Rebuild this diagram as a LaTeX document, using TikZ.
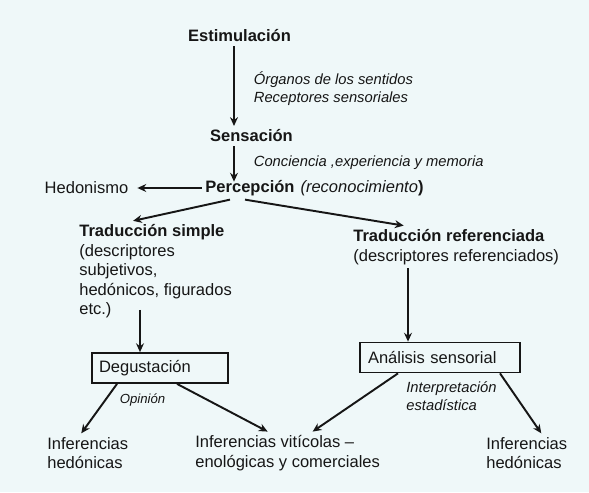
\documentclass[tikz,border=0pt]{standalone}
\usepackage{fontspec}
\setmainfont{Liberation Sans}
\usetikzlibrary{arrows.meta}
\definecolor{diagink}{HTML}{161616}
\definecolor{diagback}{HTML}{EFF8F9}
\newcommand{\cuerpo}{\fontsize{9.4}{11.1}\selectfont}
\newcommand{\nota}{\fontsize{8.4}{10.2}\selectfont\itshape}
\newcommand{\marco}{(0,0) rectangle (11.78,9.84)}

\begin{document}
\begin{tikzpicture}[x=1cm, y=1cm, every node/.style={text=diagink, font=\cuerpo, inner sep=2pt},
  flecha/.style={draw=diagink, line width=1.1pt, -{Stealth[length=5pt, width=4.5pt]}},
  caja/.style={draw=diagink, line width=1pt, align=left, minimum height=0.6cm, inner ysep=1pt},
  bloque/.style={align=left, anchor=west},
  etiqueta/.style={font=\nota, align=left, anchor=west}]

  \fill[diagback] \marco;
  \useasboundingbox \marco;

  %% Upper chain
  \node[font=\cuerpo\bfseries] (est) at (4.79,9.12) {Estimulación};
  \node[font=\cuerpo\bfseries] (sens) at (5.03,7.12) {Sensación};
  \node[font=\cuerpo\bfseries] (perc) at (5.0,6.08) {Percepción};
  \node[anchor=base west, inner xsep=1pt] (reco) at (perc.base east) {\textit{(reconocimiento}\textbf{)}};
  \node (hed) at (1.73,6.08) {Hedonismo};
  \coordinate (eje) at (4.68,0);

  \node[etiqueta] (sentidos) at (5.0,8.06) {Órganos de los sentidos\\Receptores sensoriales};
  \node[etiqueta] (conc) at (5.0,6.58) {Conciencia ,experiencia y memoria};

  \draw[flecha] (est.south -| eje) -- (sens.north -| eje);
  \draw[flecha, shorten >=-3pt] (sens.south -| eje) -- (perc.north -| eje);
  \draw[flecha, shorten >=3pt] (perc.west) -- (hed.east);

  %% Two translations
  \node[bloque] (trs) at (1.51,4.41) {\textbf{Traducción simple}\\(descriptores\\subjetivos,\\hedónicos, figurados\\etc.)};
  \node[bloque] (trr) at (6.99,4.90) {\textbf{Traducción referenciada}\\(descriptores referenciados)};

  \draw[flecha] ([xshift=-0.4cm]perc.south) -- ([xshift=-0.45cm]trs.north);
  \draw[flecha] ([xshift=-0.1cm]perc.south) -- ([xshift=-1.05cm]trr.north);

  %% Boxes
  \node[caja, text width=2.44cm, inner xsep=0.14cm] (deg) at (3.2,2.48) {Degustación};
  \node[caja, text width=2.88cm, inner xsep=0.16cm] (ana) at (8.8,2.69) {Análisis sensorial};
  \coordinate (ejeizq) at (2.8,0);
  \coordinate (ejeder) at (8.16,0);

  \draw[flecha, shorten <=-7pt] (trs.south -| ejeizq) -- (deg.north -| ejeizq);
  \draw[flecha] (trr.south -| ejeder) -- (ana.north -| ejeder);

  \node[font=\fontsize{7.5}{9}\selectfont\itshape] (opin) at (2.85,1.84) {Opinión};
  \node[etiqueta, font=\fontsize{8.4}{10.2}\selectfont\itshape] (interp) at (8.05,1.92) {Interpretación\\estadística};

  %% Inferences
  \node[bloque] (infizq) at (0.87,0.78) {Inferencias\\hedónicas};
  \node[bloque] (infmed) at (3.83,0.78) {Inferencias vitícolas –\\enológicas y comerciales};
  \node[bloque] (infder) at (9.65,0.78) {Inferencias\\hedónicas};

  \draw[flecha] ([xshift=-0.86cm]deg.south) -- ([xshift=-0.13cm]infizq.north);
  \draw[flecha] ([xshift=0.34cm]deg.south) -- ([xshift=-0.4cm]infmed.north);
  \draw[flecha] ([xshift=-0.84cm]ana.south) -- ([xshift=0.5cm]infmed.north);
  \draw[flecha] ([xshift=1.2cm]ana.south) -- ([xshift=0.29cm]infder.north);

\end{tikzpicture}
\end{document}
